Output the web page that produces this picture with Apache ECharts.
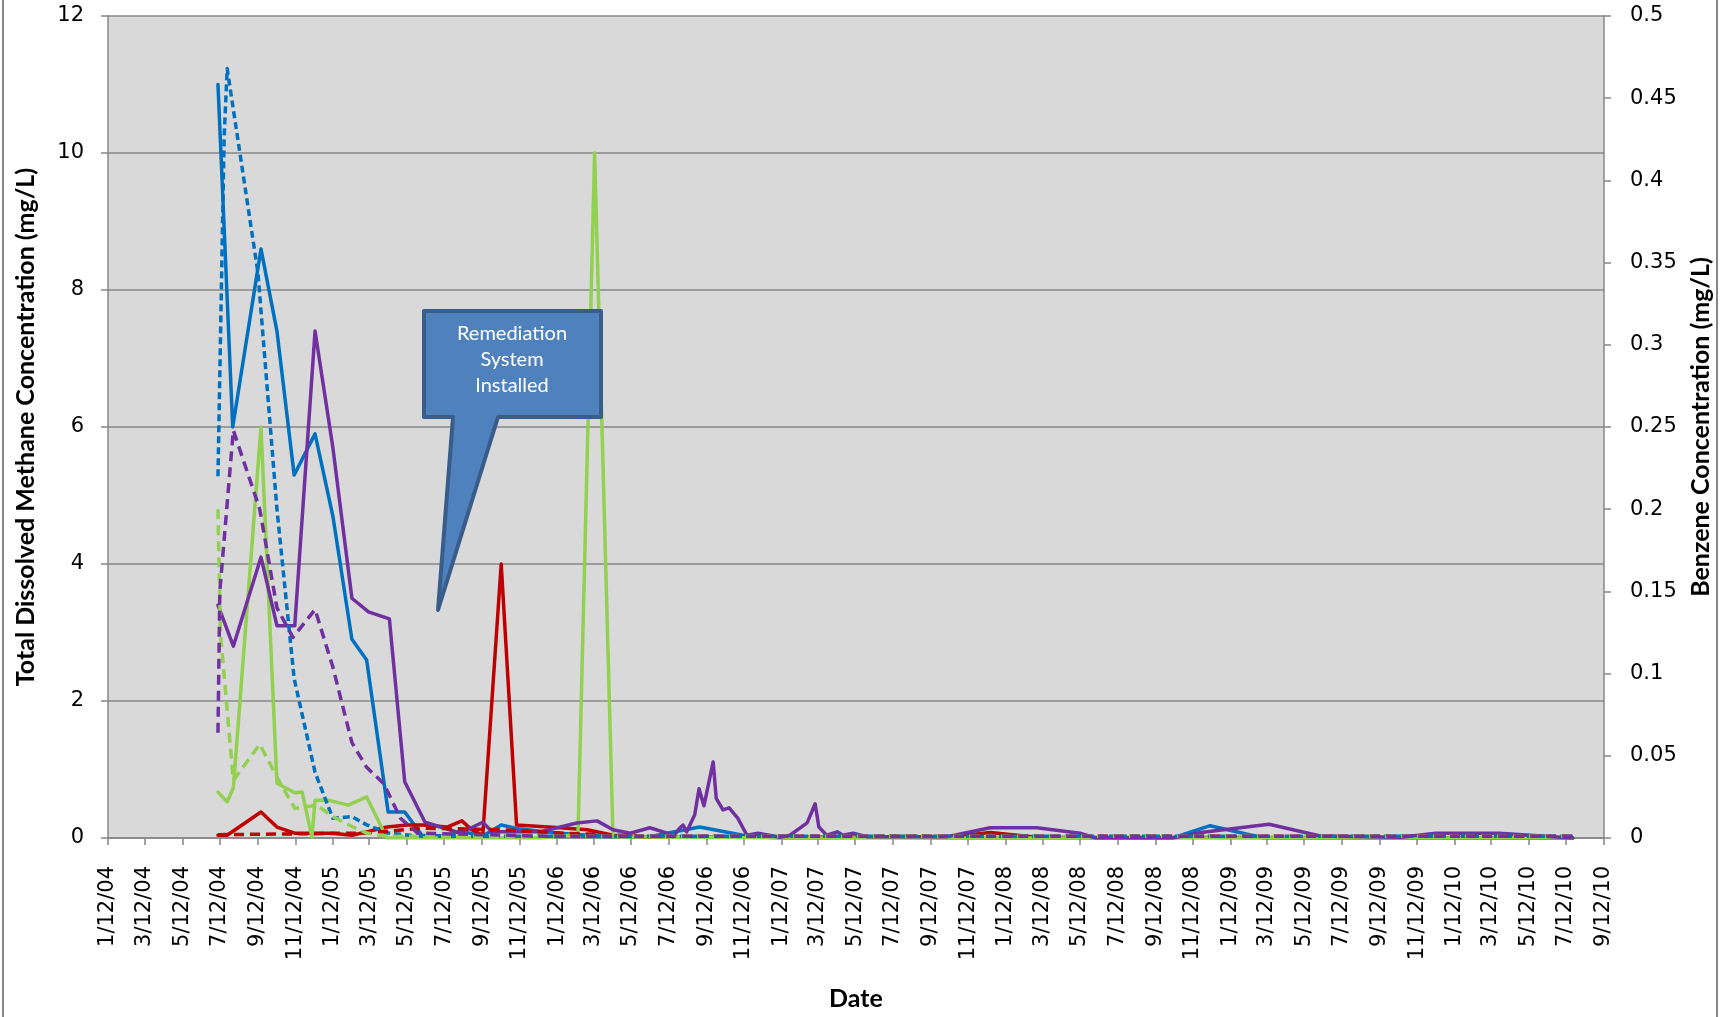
<!DOCTYPE html>
<html>
<head>
<meta charset="utf-8">
<title>Methane and Benzene Concentration</title>
<script src="https://cdn.jsdelivr.net/npm/echarts@6/dist/echarts.min.js"></script>
<style>
  html, body { margin: 0; padding: 0; background: #fff; }
  #main { width: 1724px; height: 1017px; }
</style>
</head>
<body>
<div id="main"></div>
<script>
// x axis tick labels (every 2 months on the 12th)
var tickLabels = [
    '1/12/04','3/12/04','5/12/04','7/12/04','9/12/04','11/12/04',
    '1/12/05','3/12/05','5/12/05','7/12/05','9/12/05','11/12/05',
    '1/12/06','3/12/06','5/12/06','7/12/06','9/12/06','11/12/06',
    '1/12/07','3/12/07','5/12/07','7/12/07','9/12/07','11/12/07',
    '1/12/08','3/12/08','5/12/08','7/12/08','9/12/08','11/12/08',
    '1/12/09','3/12/09','5/12/09','7/12/09','9/12/09','11/12/09',
    '1/12/10','3/12/10','5/12/10','7/12/10','9/12/10'
];

// well 1 (blue)
var w1MethaneDates = ['2004-07-09','2004-08-02','2004-09-17','2004-10-13','2004-11-10','2004-12-14','2005-01-12','2005-02-12','2005-03-08','2005-04-12','2005-05-09','2005-06-06','2005-07-17','2005-08-07','2005-09-13','2005-10-13','2005-11-07','2005-12-15','2006-01-17','2006-03-02','2006-04-13','2006-06-12','2006-07-10','2006-09-01','2006-11-17','2007-01-10','2007-03-27','2007-05-31','2007-10-09','2007-12-18','2008-03-03','2008-06-07','2008-10-10','2008-12-10','2009-03-07','2009-06-07','2009-10-16','2009-12-12','2010-03-25','2010-07-23'];
var w1Methane = [11.0, 6.0, 8.6, 7.4, 5.3, 5.9, 4.7, 2.9, 2.6, 0.38, 0.38, 0.04, 0.03, 0.1, 0.03, 0.19, 0.14, 0.1, 0.07, 0.04, 0.02, 0.02, 0.07, 0.16, 0.03, 0, 0, 0.01, 0, 0, 0, 0, 0, 0.18, 0, 0, 0, 0, 0, 0];
var w1BenzeneDates = ['2004-07-09','2004-07-19','2004-07-24','2004-09-12','2004-10-13','2004-11-10','2004-12-14','2005-01-12','2005-02-12','2005-03-08','2005-04-12','2005-06-06','2006-01-17','2007-01-10','2008-06-07','2009-06-07','2010-07-23'];
var w1Benzene = [0.22, 0.426, 0.468, 0.344, 0.2, 0.097, 0.04, 0.012, 0.013, 0.008, 0.003, 0.001, 0.001, 0.001, 0.001, 0.001, 0.001];

// well 2 (purple)
var w2MethaneDates = ['2004-07-09','2004-08-03','2004-09-17','2004-10-13','2004-11-11','2004-12-14','2005-01-12','2005-02-12','2005-03-11','2005-04-14','2005-05-09','2005-06-11','2005-07-21','2005-08-07','2005-09-13','2005-09-28','2005-12-15','2006-02-13','2006-03-18','2006-04-13','2006-05-11','2006-06-12','2006-07-10','2006-07-20','2006-07-31','2006-08-05','2006-08-11','2006-08-24','2006-08-31','2006-09-08','2006-09-23','2006-09-28','2006-10-09','2006-10-19','2006-11-02','2006-11-17','2006-12-05','2007-01-10','2007-01-26','2007-02-23','2007-03-08','2007-03-14','2007-03-27','2007-04-13','2007-04-22','2007-05-09','2007-05-31','2007-10-09','2007-12-18','2008-03-03','2008-05-12','2008-06-07','2008-10-10','2008-11-25','2009-03-16','2009-06-07','2009-10-16','2009-12-12','2010-03-25','2010-07-23'];
var w2Methane = [3.4, 2.8, 4.1, 3.1, 3.1, 7.4, 5.7, 3.5, 3.3, 3.2, 0.82, 0.23, 0.12, 0.07, 0.23, 0.09, 0.09, 0.22, 0.25, 0.12, 0.07, 0.15, 0.07, 0.02, 0.15, 0.19, 0.09, 0.34, 0.72, 0.47, 1.11, 0.58, 0.41, 0.44, 0.29, 0.04, 0.07, 0.01, 0.04, 0.22, 0.5, 0.16, 0.04, 0.09, 0.04, 0.07, 0.02, 0.02, 0.15, 0.15, 0.07, 0, 0, 0.08, 0.2, 0.03, 0.01, 0.07, 0.07, 0];
var w2BenzeneDates = ['2004-07-09','2004-07-12','2004-08-03','2004-09-15','2004-10-13','2004-11-08','2004-12-14','2005-01-12','2005-02-12','2005-03-08','2005-04-05','2005-05-02','2005-05-30','2006-01-01','2007-01-10','2010-07-23'];
var w2Benzene = [0.064, 0.15, 0.248, 0.2, 0.14, 0.122, 0.139, 0.104, 0.058, 0.043, 0.033, 0.012, 0.003, 0.001, 0.001, 0.001];

// well 3 (green)
var w3MethaneDates = ['2004-07-09','2004-07-24','2004-08-03','2004-09-17','2004-10-13','2004-11-11','2004-11-23','2004-12-09','2004-12-14','2005-01-06','2005-02-06','2005-03-08','2005-04-10','2005-06-11','2005-12-15','2006-02-15','2006-03-14','2006-04-13','2007-01-10','2008-06-07','2009-06-07','2010-07-23'];
var w3Methane = [0.67, 0.53, 0.73, 6.0, 0.8, 0.66, 0.67, 0.01, 0.55, 0.55, 0.48, 0.6, 0, 0, 0, 0.05, 10.0, 0.02, 0, 0, 0, 0];
var w3BenzeneDates = ['2004-07-09','2004-07-13','2004-08-03','2004-09-15','2004-10-13','2004-11-11','2004-12-17','2005-01-12','2005-02-12','2005-03-08','2005-04-10','2006-06-12','2008-06-07','2010-07-26'];
var w3Benzene = [0.2, 0.125, 0.035, 0.057, 0.037, 0.018, 0.02, 0.013, 0.007, 0.003, 0.001, 0.001, 0.001, 0.001];

// well 4 (red)
var w4MethaneDates = ['2004-07-09','2004-07-24','2004-09-17','2004-10-13','2004-11-11','2004-12-17','2005-01-12','2005-02-12','2005-03-08','2005-04-10','2005-05-13','2005-06-08','2005-07-17','2005-08-10','2005-08-26','2005-09-13','2005-10-13','2005-11-07','2006-01-17','2006-03-02','2006-04-13','2006-06-12','2007-10-09','2007-12-18','2008-03-03','2010-07-23'];
var w4Methane = [0.04, 0.04, 0.38, 0.16, 0.07, 0.07, 0.07, 0.04, 0.09, 0.16, 0.19, 0.19, 0.16, 0.25, 0.12, 0.04, 4.0, 0.19, 0.15, 0.12, 0.04, 0.01, 0.01, 0.08, 0.01, 0];
var w4BenzeneDates = ['2004-07-09','2005-03-08','2005-06-08','2005-10-13','2006-01-17','2006-06-12','2010-07-23'];
var w4Benzene = [0.002, 0.003, 0.006, 0.005, 0.003, 0.001, 0.001];

var colors = { blue: '#0070c0', purple: '#7030a0', green: '#92d050', red: '#c00000' };
var gray = '#878787';

// 'YYYY-MM-DD' -> local timestamp
function dayTime(s) {
    var p = s.split('-');
    return new Date(+p[0], +p[1] - 1, +p[2]).getTime();
}
// 'M/12/YY' -> local timestamp
function tickTime(label) {
    var p = label.split('/');
    return new Date(2000 + parseInt(p[2], 10), parseInt(p[0], 10) - 1, parseInt(p[1], 10)).getTime();
}
var tickTimes = tickLabels.map(tickTime);

function pairs(dates, values) {
    return dates.map(function (d, i) { return [dayTime(d), values[i]]; });
}

function lineSeries(name, dates, values, color, yIndex, dash) {
    return {
        name: name,
        type: 'line',
        yAxisIndex: yIndex,
        data: pairs(dates, values),
        showSymbol: false,
        symbol: 'none',
        lineStyle: {
            color: color,
            width: 3.5,
            type: dash || 'solid',
            cap: dash ? 'butt' : 'round',
            join: 'round'
        },
        itemStyle: { color: color }
    };
}

var myChart = echarts.init(document.getElementById('main'), null, { renderer: 'canvas' });

var tickFont = { fontFamily: 'DejaVu Sans', fontSize: 21, color: '#000' };
var titleFont = { fontFamily: 'Lato', fontSize: 25, fontWeight: 'bold', color: '#000' };

var option = {
    animation: false,
    backgroundColor: '#fff',
    grid: {
        left: 108,
        right: 120,
        top: 16,
        bottom: 179,
        show: true,
        backgroundColor: '#d9d9d9',
        borderWidth: 0
    },
    xAxis: {
        type: 'value',
        min: tickTimes[0],
        max: tickTimes[tickTimes.length - 1],
        name: 'Date',
        nameLocation: 'middle',
        nameGap: 148,
        nameTextStyle: titleFont,
        axisLine: { show: true, lineStyle: { color: gray, width: 1.5 } },
        axisTick: { show: true, length: 7, lineStyle: { color: gray, width: 1.5 }, customValues: tickTimes },
        axisLabel: Object.assign({
            rotate: 90,
            margin: 28,
            customValues: tickTimes,
            formatter: function (val) {
                var i = tickTimes.indexOf(val);
                return i >= 0 ? tickLabels[i] : '';
            }
        }, tickFont),
        splitLine: { show: false }
    },
    yAxis: [
        {
            type: 'value',
            min: 0,
            max: 12,
            interval: 2,
            name: 'Total Dissolved Methane Concentration (mg/L)',
            nameLocation: 'middle',
            nameRotate: 90,
            nameGap: 70,
            nameTextStyle: titleFont,
            axisLine: { show: true, lineStyle: { color: gray, width: 1.5 } },
            axisTick: { show: true, length: 7, lineStyle: { color: gray, width: 1.5 } },
            axisLabel: Object.assign({ margin: 24 }, tickFont),
            splitLine: { show: true, lineStyle: { color: gray, width: 1.5 } }
        },
        {
            type: 'value',
            min: 0,
            max: 0.5,
            interval: 0.05,
            position: 'right',
            name: 'Benzene Concentration (mg/L)',
            nameLocation: 'middle',
            nameRotate: 90,
            nameGap: 84,
            nameTextStyle: titleFont,
            axisLine: { show: true, lineStyle: { color: gray, width: 1.5 } },
            axisTick: { show: true, length: 7, lineStyle: { color: gray, width: 1.5 } },
            axisLabel: Object.assign({ margin: 26 }, tickFont),
            splitLine: { show: false }
        }
    ],
    series: [
        lineSeries('Well 1 Methane', w1MethaneDates, w1Methane, colors.blue, 0),
        lineSeries('Well 4 Methane', w4MethaneDates, w4Methane, colors.red, 0),
        lineSeries('Well 3 Methane', w3MethaneDates, w3Methane, colors.green, 0),
        lineSeries('Well 2 Methane', w2MethaneDates, w2Methane, colors.purple, 0),
        lineSeries('Well 1 Benzene', w1BenzeneDates, w1Benzene, colors.blue, 1, [7, 4]),
        lineSeries('Well 4 Benzene', w4BenzeneDates, w4Benzene, colors.red, 1, [10, 6]),
        lineSeries('Well 3 Benzene', w3BenzeneDates, w3Benzene, colors.green, 1, [10, 6]),
        lineSeries('Well 2 Benzene', w2BenzeneDates, w2Benzene, colors.purple, 1, [10, 6])
    ],
    graphic: [
        // chart area border
        { type: 'line', shape: { x1: 3, y1: 0, x2: 3, y2: 1017 }, style: { stroke: gray, lineWidth: 2 }, silent: true },
        { type: 'line', shape: { x1: 1717, y1: 0, x2: 1717, y2: 1017 }, style: { stroke: gray, lineWidth: 2 }, silent: true },
        // callout
        {
            type: 'polygon',
            z: 100,
            shape: { points: [[424, 311], [601, 311], [601, 417], [498, 417], [438, 610], [453, 417], [424, 417]] },
            style: { fill: '#4f81bd', stroke: '#385d8a', lineWidth: 4, lineJoin: 'round' }
        },
        {
            type: 'text',
            z: 101,
            x: 512,
            y: 321,
            style: {
                text: 'Remediation\nSystem\nInstalled',
                fill: '#fff',
                fontFamily: 'Lato',
                fontSize: 20,
                lineHeight: 26,
                align: 'center',
                verticalAlign: 'top'
            }
        }
    ]
};

myChart.setOption(option);
window.onresize = myChart.resize;
</script>
</body>
</html>
